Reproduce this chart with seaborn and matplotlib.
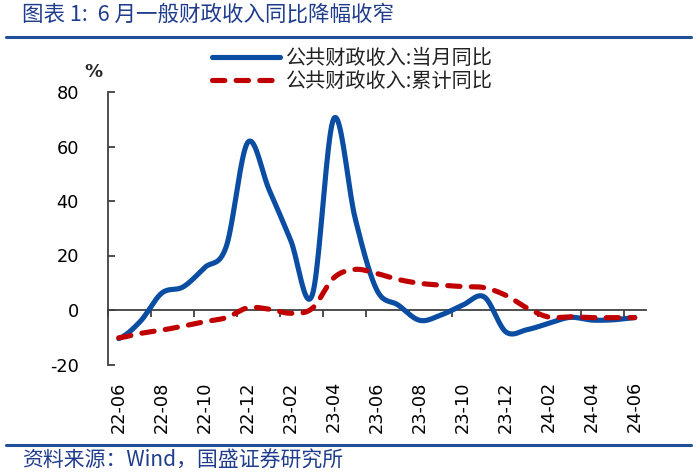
import matplotlib
matplotlib.use("Agg")
import matplotlib.pyplot as plt
from matplotlib.lines import Line2D
import seaborn as sns
import numpy as np

# data (%, yoy)
months = ["22-06", "22-07", "22-08", "22-09", "22-10", "22-11", "22-12",
          "23-01", "23-02", "23-03", "23-04", "23-05", "23-06", "23-07",
          "23-08", "23-09", "23-10", "23-11", "23-12", "24-01", "24-02",
          "24-03", "24-04", "24-05", "24-06"]
monthly_yoy = [-10.5, -4.2, 6.2, 8.5, 15.6, 23.3, 61.5,
               44.0, 25.5, 5.5, 70.2, 33.5, 7.4, 1.8,
               -3.8, -1.8, 1.8, 4.8, -8.0, -7.2, -4.9,
               -2.7, -3.7, -3.6, -2.8]
cumulative_yoy = [-10.2, -8.6, -7.4, -5.9, -4.3, -2.8, 0.8,
                  0.3, -1.2, 0.6, 11.8, 14.9, 13.4, 11.2,
                  9.8, 9.1, 8.6, 8.2, 5.4, 0.7, -2.6,
                  -2.5, -2.8, -2.8, -2.8]

label_month = "公共财政收入:当月同比"
label_cum = "公共财政收入:累计同比"
title = "图表 1:  6 月一般财政收入同比降幅收窄"
source = "资料来源：Wind，国盛证券研究所"

BLUE = "#0a4da2"
RED = "#c00000"
DARK = "#1f3d8c"


def smooth(vals, n=20):
    # Excel-like smoothed line (Catmull-Rom through every data point)
    p = np.asarray(vals, float)
    p = np.concatenate([[p[0]], p, [p[-1]]])
    xs, ys = [], []
    for i in range(1, len(p) - 2):
        t = np.linspace(0, 1, n, endpoint=False)
        p0, p1, p2, p3 = p[i - 1], p[i], p[i + 1], p[i + 2]
        y = 0.5 * ((2 * p1) + (-p0 + p2) * t + (2 * p0 - 5 * p1 + 4 * p2 - p3) * t ** 2
                   + (-p0 + 3 * p1 - 3 * p2 + p3) * t ** 3)
        xs.append(i - 1 + t)
        ys.append(y)
    xs.append([len(vals) - 1])
    ys.append([vals[-1]])
    return np.concatenate(xs), np.concatenate(ys)


sns.set_style("white")
plt.rcParams["font.family"] = ["DejaVu Sans"]
plt.rcParams["axes.unicode_minus"] = False
cjk = ["Noto Sans CJK SC", "DejaVu Sans"]

fig = plt.figure(figsize=(7, 4.75), dpi=100)
ax = fig.add_axes([108 / 700, 1 - 364.5 / 475, 537.5 / 700, 272.5 / 475])

xm, ym = smooth(monthly_yoy)
xc, yc = smooth(cumulative_yoy)
sns.lineplot(x=xm, y=ym, ax=ax, color=BLUE, linewidth=3.7, label=label_month,
             solid_capstyle="round")
sns.lineplot(x=xc, y=yc, ax=ax, color=RED, linewidth=3.7, label=label_cum,
             linestyle=(0, (2.4, 2.2)))
ax.lines[1].set_dash_capstyle("round")

ax.set_xlim(-0.5, len(months) - 0.5)
ax.set_ylim(-20, 80)
ax.set_yticks(range(-20, 81, 20))
ax.tick_params(axis="y", direction="in", length=5, width=1.3, color="#404040",
               pad=21, labelsize=12.8, labelcolor="black", left=True)
ax.set_xticks(range(0, len(months), 2))
ax.set_xticklabels(months[::2], rotation=90)
ax.tick_params(axis="x", length=0, pad=12, labelsize=12.8, labelcolor="black")

for s in ["top", "right", "bottom"]:
    ax.spines[s].set_visible(False)
ax.spines["left"].set_color("#404040")
ax.spines["left"].set_linewidth(1.3)

# category axis crossing at zero with ticks between categories
zero = ax.secondary_xaxis(0, transform=ax.transData)
zero.set_xticks(np.arange(-0.5, len(months), 2))
zero.set_xticklabels([])
zero.tick_params(direction="out", length=5, width=1.3, color="#404040")
zero.spines["bottom"].set_color("#404040")
zero.spines["bottom"].set_linewidth(1.3)

ax.set_xlabel("")
ax.set_ylabel("")
ax.text(-0.028, 1.072, "%", transform=ax.transAxes, ha="center", va="center",
        fontsize=13, fontweight="bold")

leg = ax.legend(loc="upper left", bbox_to_anchor=(212 / 700, 1 - 48 / 475),
                bbox_transform=fig.transFigure, frameon=False, borderpad=0,
                borderaxespad=0, handlelength=3.4, handletextpad=0.25,
                labelspacing=0.12, prop={"family": cjk, "size": 14.5})
for t in leg.get_texts():
    t.set_color("#222222")

fig.text(22 / 700, 1 - 15 / 475, title, ha="left", va="center", fontsize=15.5,
         color=DARK, family=cjk, style="italic")
fig.text(22 / 700, 1 - 461 / 475, source, ha="left", va="center", fontsize=15,
         color=DARK, family=cjk, style="italic")
for yy in (37, 445):
    fig.add_artist(Line2D([6 / 700, 691 / 700], [1 - yy / 475] * 2,
                          transform=fig.transFigure, color="#1f4e9a", linewidth=2.2))

fig.savefig("out.png", dpi=100)
